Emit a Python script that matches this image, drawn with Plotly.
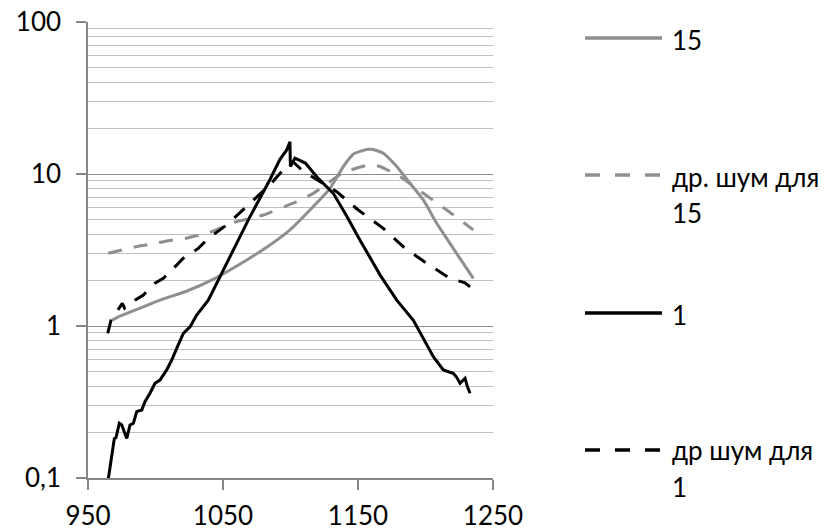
import plotly.graph_objects as go

# ---- data ----
x_s1 = [965.0, 967.6, 969.5, 970.7, 973.2, 975.0, 978.7, 981.1, 983.6, 986.1, 989.8, 992.2,
        995.9, 999.6, 1003.3, 1008.3, 1012.0, 1015.7, 1019.4, 1020.6, 1025.6, 1030.5, 1039.1,
        1055.2, 1070.0, 1084.8, 1092.2, 1097.2, 1099.6, 1099.9, 1103.3, 1111.0, 1119.4, 1131.7,
        1141.6, 1151.5, 1158.0, 1166.3, 1178.7, 1191.0, 1205.8, 1213.2, 1217.0, 1220.6, 1223.1,
        1225.6, 1229.3, 1231.0, 1233.0]
y_s1 = [0.098, 0.138, 0.182, 0.184, 0.229, 0.223, 0.182, 0.223, 0.229, 0.273, 0.280, 0.318,
        0.361, 0.420, 0.441, 0.514, 0.597, 0.713, 0.851, 0.895, 0.989, 1.18, 1.48,
        2.86, 5.24, 9.2, 12.5, 14.4, 16.3, 11.2, 12.7, 11.8, 9.6, 7.46,
        5.3, 3.67, 2.9, 2.17, 1.48, 1.09, 0.628, 0.514, 0.50, 0.489, 0.46,
        0.420, 0.453, 0.40, 0.361]

x_n1 = [964.6, 967.0, 975.4, 977.1, 984.8, 991.0, 999.6, 1005.8, 1014.4, 1020.6, 1031.7, 1039.1,
        1052.7, 1070.0, 1084.8, 1096.0, 1102.0, 1109.5, 1119.4, 1134.2, 1150.2, 1168.7, 1183.6,
        1200.9, 1218.1, 1223.1, 1229.3, 1233.0]
y_n1 = [0.895, 1.09, 1.41, 1.31, 1.48, 1.60, 1.91, 2.06, 2.45, 2.79, 3.24, 3.77,
        4.62, 6.42, 8.5, 11.0, 12.0, 10.4, 9.2, 7.65, 5.8, 4.39, 3.32,
        2.58, 2.06, 1.99, 1.92, 1.81]

x_s15 = [967.6, 972.4, 984.8, 997.2, 1007.0, 1021.9, 1044.1, 1067.6, 1084.8, 1099.6, 1114.4,
         1129.3, 1139.1, 1146.5, 1156.4, 1161.0, 1168.7, 1178.7, 1188.5, 1198.4, 1208.3, 1218.1,
         1228.0, 1235.4]
y_s15 = [1.09, 1.15, 1.27, 1.41, 1.52, 1.68, 2.06, 2.72, 3.41, 4.29, 5.8,
         8.05, 11.2, 13.5, 14.5, 14.5, 13.7, 11.2, 8.69, 6.75, 4.74, 3.50,
         2.58, 2.06]

x_n15 = [965.0, 975.0, 987.3, 997.2, 1009.5, 1021.9, 1039.1, 1060.1, 1079.9, 1104.6, 1116.9,
         1139.1, 1158.9, 1166.3, 1181.1, 1198.4, 1215.7, 1235.4]
y_n15 = [3.01, 3.16, 3.35, 3.46, 3.64, 3.77, 4.11, 4.86, 5.37, 6.58, 7.46,
         10.2, 11.5, 11.2, 9.6, 7.46, 5.8, 4.29]

x_ticks = [950, 1050, 1150, 1250]
y_ticks = [0.1, 1, 10, 100]
y_ticktext = ["0,1", "1", "10", "100"]

legend_names = ["15", "др. шум для 15", "1", "др шум для 1"]

# ---- styling ----
GRAY = "#8f8f8f"
BLACK = "#000000"
AXIS = "#868686"
FONT = "Lato, 'Open Sans', sans-serif"
W, H = 828, 530
L, R, T, B = 88, 335, 22, 52
DASH = "14px,12px"

fig = go.Figure()
fig.add_trace(go.Scatter(x=x_s15, y=y_s15, mode="lines", name=legend_names[0],
                         line=dict(color=GRAY, width=3, shape="spline", smoothing=0.5)))
fig.add_trace(go.Scatter(x=x_n15, y=y_n15, mode="lines", name=legend_names[1],
                         line=dict(color=GRAY, width=3, dash=DASH, shape="spline", smoothing=0.5)))
fig.add_trace(go.Scatter(x=x_s1, y=y_s1, mode="lines", name=legend_names[2],
                         line=dict(color=BLACK, width=3)))
fig.add_trace(go.Scatter(x=x_n1, y=y_n1, mode="lines", name=legend_names[3],
                         line=dict(color=BLACK, width=3, dash=DASH)))

pw = W - L - R
ph = H - T - B
def px(xp):
    return (xp - L) / pw
def py(yp):
    return (H - B - yp) / ph

# manual legend (samples + labels)
legend_items = [
    (38, GRAY, "solid", [(40, legend_names[0])]),
    (175, GRAY, "15px,15px", [(177, "др. шум для"), (213, "15")]),
    (313, BLACK, "solid", [(315, legend_names[2])]),
    (450, BLACK, "15px,15px", [(450, "др шум для"), (487, "1")]),
]
shapes = []
annotations = []
for ly, col, dash, texts in legend_items:
    shapes.append(dict(type="line", xref="paper", yref="paper",
                       x0=px(585), x1=px(662), y0=py(ly), y1=py(ly),
                       line=dict(color=col, width=3.5, dash=dash)))
    for ty, t in texts:
        annotations.append(dict(xref="paper", yref="paper", x=px(670), y=py(ty),
                                xanchor="left", yanchor="middle", text=t, showarrow=False,
                                font=dict(family=FONT, size=26, color="#000")))

fig.update_layout(
    width=W, height=H,
    margin=dict(l=L, r=R, t=T, b=B, pad=0, autoexpand=False),
    paper_bgcolor="white", plot_bgcolor="white",
    showlegend=False,
    font=dict(family=FONT, size=26, color="#000"),
    shapes=shapes, annotations=annotations,
)
fig.update_xaxes(range=[950, 1250], tickvals=x_ticks, ticktext=[str(v) for v in x_ticks],
                 automargin=False,
                 showgrid=False, zeroline=False, showline=True, linecolor=AXIS, linewidth=1.5,
                 ticks="outside", ticklen=10, tickwidth=1.5, tickcolor=AXIS,
                 ticklabelstandoff=4)
fig.update_yaxes(type="log", range=[-1, 2], tickvals=y_ticks, ticktext=y_ticktext,
                 automargin=False,
                 showgrid=True, gridcolor="#8c8c8c", gridwidth=1.3,
                 zeroline=False, showline=True, linecolor=AXIS, linewidth=1.5,
                 ticks="outside", ticklen=10, tickwidth=1.5, tickcolor=AXIS,
                 ticklabelstandoff=10,
                 minor=dict(dtick="D1", showgrid=True, gridcolor="#c0c0c0", gridwidth=1,
                            ticks=""))

fig.write_html("out.html")
